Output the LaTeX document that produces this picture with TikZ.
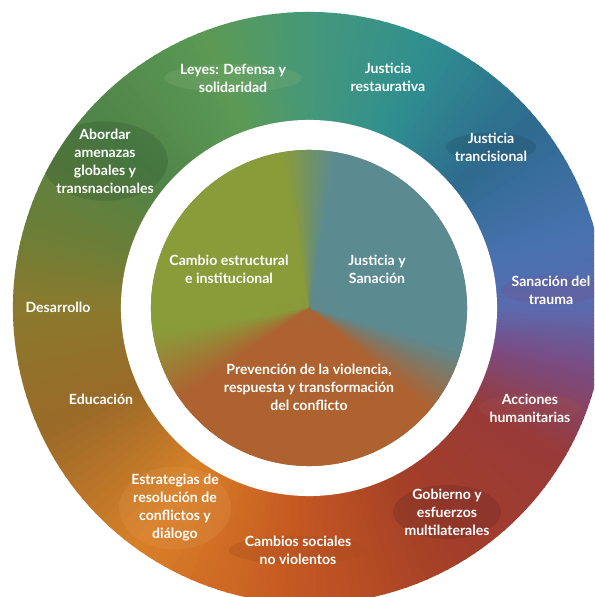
\documentclass[tikz,border=0pt]{standalone}
\usepackage{fontspec}
\setmainfont{Lato}
\usetikzlibrary{shapes.geometric}

\definecolor{rBlue}{HTML}{5A6AAE}
\definecolor{rSky}{HTML}{4872B0}
\definecolor{rNavy}{HTML}{2E6A8E}
\definecolor{rTeal}{HTML}{2F8E90}
\definecolor{rMint}{HTML}{45987A}
\definecolor{rLeaf}{HTML}{5C9A55}
\definecolor{rMoss}{HTML}{4F8448}
\definecolor{rOlive}{HTML}{6E7E36}
\definecolor{rKhaki}{HTML}{8A7A2E}
\definecolor{rBrown}{HTML}{9A6A28}
\definecolor{rAmber}{HTML}{D98028}
\definecolor{rRust}{HTML}{C65A22}
\definecolor{rBrick}{HTML}{A33E28}
\definecolor{rWine}{HTML}{983A38}
\definecolor{rPlum}{HTML}{7A4C84}
\definecolor{cGreen}{HTML}{8A9B3A}
\definecolor{cTeal}{HTML}{5B8A91}
\definecolor{cOrange}{HTML}{AE6230}

% pie slice from #2 to #3 degrees, radius #1, colour going from #4 to #5
\newcommand{\piefill}[5]{%
  \foreach \k in {0,...,15}{%
    \pgfmathsetmacro{\ta}{#2+(#3-#2)*\k/16}%
    \pgfmathsetmacro{\tb}{#2+(#3-#2)*(\k+1)/16+0.4}%
    \pgfmathtruncatemacro{\mixp}{100-(\k+0.5)*100/16}%
    \fill[#4!\mixp!#5] (0,0) -- (\ta:#1) arc[start angle=\ta,end angle=\tb,radius=#1] -- cycle;
  }}

\begin{document}
\begin{tikzpicture}[
  x=0.025cm, y=0.025cm,
  lbl/.style={text=white, font=\bfseries\fontsize{10}{12.8}\selectfont, align=center, inner sep=1pt},
  blob/.style={ellipse, fill=#1, fill opacity=0.3, text opacity=1, inner sep=-3pt},
]
\useasboundingbox (-309,-289) rectangle (285,308);
\clip (-309,-289) rectangle (285,308);

\fill[rKhaki!50!rSky] (0,0) circle[radius=3cm];
\piefill{7.4cm}{0}{15}{rBlue}{rSky}
\piefill{7.4cm}{15}{40}{rSky}{rNavy}
\piefill{7.4cm}{40}{65}{rNavy}{rTeal}
\piefill{7.4cm}{65}{90}{rTeal}{rMint}
\piefill{7.4cm}{90}{110}{rMint}{rLeaf}
\piefill{7.4cm}{110}{140}{rLeaf}{rMoss}
\piefill{7.4cm}{140}{165}{rMoss}{rOlive}
\piefill{7.4cm}{165}{180}{rOlive}{rKhaki}
\piefill{7.4cm}{180}{205}{rKhaki}{rBrown}
\piefill{7.4cm}{205}{235}{rBrown}{rAmber}
\piefill{7.4cm}{235}{265}{rAmber}{rRust}
\piefill{7.4cm}{265}{300}{rRust}{rBrick}
\piefill{7.4cm}{300}{330}{rBrick}{rWine}
\piefill{7.4cm}{330}{348}{rWine}{rPlum}
\piefill{7.4cm}{348}{360}{rPlum}{rBlue}

\begin{scope}
\clip (0,0) circle[radius=7.4cm];
\node[lbl, blob=rLeaf!80!white] (leyes) at (-76,230) {Leyes: Defensa y\\solidaridad};
\node[lbl] (restaurativa) at (79,231) {Justicia\\restaurativa};
\node[lbl, blob=rNavy!70!black] (transicional) at (182,161) {Justicia\\trancisional};
\node[lbl, blob=rPlum!80!rBlue] (trauma) at (242,18) {Sanación del\\trauma};
\node[lbl, blob=rWine!90!white] (humanitarias) at (221,-100) {Acciones\\humanitarias};
\node[lbl, blob=rWine!70!black] (gobierno) at (138,-204) {Gobierno y\\esfuerzos\\multilaterales};
\node[lbl, blob=rRust!85!black] (sociales) at (-11,-242) {Cambios sociales\\no violentos};
\node[lbl, blob=rAmber!85!white] (estrategias) at (-134,-200) {Estrategias de\\resolución de\\conflictos y\\diálogo};
\node[lbl] (educacion) at (-208,-91) {Educación};
\node[lbl] (desarrollo) at (-251,1) {Desarrollo};
\node[lbl, blob=rMoss!65!black] (abordar) at (-204,147) {Abordar\\amenazas\\globales y\\transnacionales};
\end{scope}

\fill[white] (0,0) circle[radius=4.7cm];

\fill[cGreen!40!cOrange!70!cTeal] (0,0) circle[radius=3.95cm];
\piefill{3.95cm}{-40}{-15}{cOrange}{cTeal}
\piefill{3.95cm}{-15}{80}{cTeal}{cTeal}
\piefill{3.95cm}{80}{100}{cTeal}{cGreen}
\piefill{3.95cm}{100}{190}{cGreen}{cGreen}
\piefill{3.95cm}{190}{215}{cGreen}{cOrange}
\piefill{3.95cm}{215}{320}{cOrange}{cOrange}

\node[lbl] (cambio) at (-80,39) {Cambio estructural\\e institucional};
\node[lbl] (sanacion) at (68,39) {Justicia y\\Sanación};
\node[lbl] (prevencion) at (0,-79) {Prevención de la violencia,\\respuesta y transformación\\del conflicto};
\end{tikzpicture}
\end{document}
